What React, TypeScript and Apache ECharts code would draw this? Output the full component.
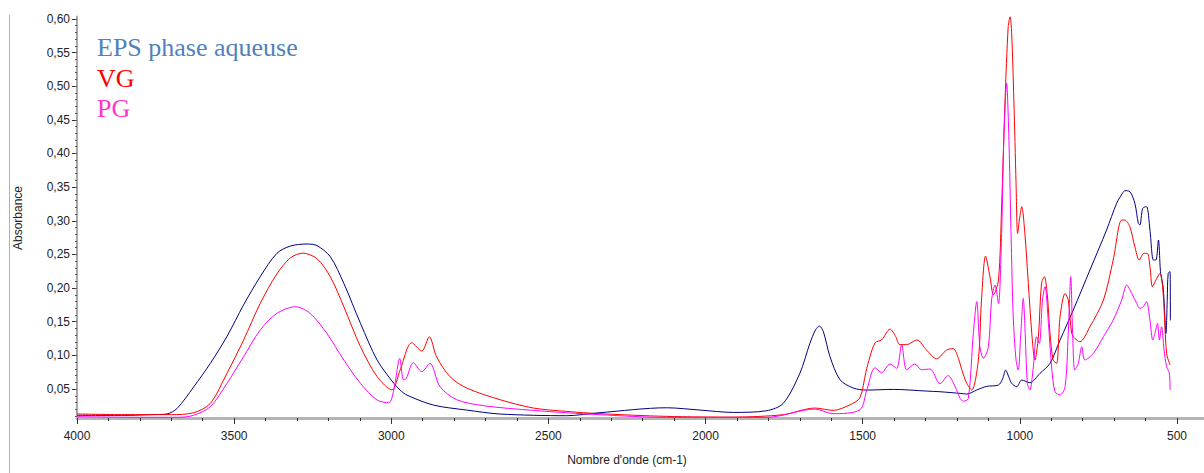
import React, { useEffect, useRef } from "react";
import * as echarts from "echarts";

// ---- Data (wavenumber cm-1, absorbance) ----
const EPS_AQUEUSE: [number, number][] = [
  [4000, 0.011], [3850, 0.011], [3760, 0.012], [3714, 0.013], [3682, 0.021],
  [3629, 0.053], [3576, 0.088], [3523, 0.128], [3470, 0.175], [3417, 0.217],
  [3364, 0.2516], [3321, 0.2625], [3268, 0.2655], [3236, 0.263], [3194, 0.2466],
  [3151, 0.207], [3098, 0.1476], [3045, 0.0931], [2992, 0.0585], [2972, 0.0485],
  [2950, 0.041], [2866, 0.0262], [2760, 0.0188], [2654, 0.0129], [2442, 0.0104],
  [2336, 0.0149], [2124, 0.0222], [2018, 0.0188], [1912, 0.0153], [1806, 0.0178],
  [1753, 0.0287], [1700, 0.0733], [1668, 0.118], [1650, 0.138], [1638, 0.1436],
  [1625, 0.135], [1604, 0.098], [1572, 0.0638], [1530, 0.0515], [1487, 0.0485],
  [1403, 0.0495], [1297, 0.047], [1254, 0.046], [1190, 0.0436], [1169, 0.0426],
  [1137, 0.0486], [1106, 0.054], [1068, 0.056], [1055, 0.065], [1045, 0.078],
  [1035, 0.068], [1026, 0.0585], [1010, 0.0535], [994, 0.0634], [968, 0.0594],
  [936, 0.0733], [904, 0.0882], [872, 0.1228], [830, 0.1674], [777, 0.2268],
  [724, 0.2863], [692, 0.3259], [672, 0.342], [666, 0.3447], [650, 0.3433],
  [634, 0.3259], [623, 0.2962], [618, 0.2937], [609, 0.3185], [597, 0.321],
  [586, 0.2863], [575, 0.2417], [567, 0.2417], [559, 0.2714], [552, 0.2219],
  [544, 0.2021], [535, 0.1327], [531, 0.182], [528, 0.2219], [522, 0.2244],
  [521, 0.152],
];

const VG: [number, number][] = [
  [4000, 0.013], [3850, 0.012], [3700, 0.012], [3629, 0.0148], [3576, 0.0286],
  [3523, 0.0733], [3470, 0.1228], [3417, 0.1773], [3364, 0.2211], [3321, 0.2449],
  [3281, 0.2519], [3236, 0.2435], [3194, 0.2169], [3151, 0.1723], [3098, 0.1129],
  [3045, 0.0684], [2998, 0.0487], [2972, 0.078], [2935, 0.1188], [2903, 0.1065],
  [2879, 0.1277], [2856, 0.098], [2813, 0.0683], [2760, 0.0515], [2654, 0.0342],
  [2548, 0.0218], [2442, 0.0168], [2336, 0.0134], [2124, 0.0094], [1912, 0.0084],
  [1753, 0.0119], [1652, 0.0218], [1594, 0.0183], [1540, 0.0267], [1509, 0.037],
  [1490, 0.075], [1477, 0.098], [1460, 0.119], [1440, 0.123], [1413, 0.139],
  [1395, 0.128], [1382, 0.116], [1360, 0.116], [1328, 0.123], [1297, 0.108],
  [1265, 0.095], [1233, 0.108], [1212, 0.11], [1195, 0.095], [1185, 0.079],
  [1169, 0.0585], [1153, 0.0486], [1132, 0.0931], [1122, 0.1822], [1109, 0.2476],
  [1095, 0.2169], [1084, 0.1897], [1068, 0.212], [1058, 0.3209], [1047, 0.4794],
  [1037, 0.5884], [1031, 0.603], [1026, 0.5785], [1019, 0.4794], [1012, 0.3556],
  [1007, 0.2813], [1000, 0.306], [994, 0.321], [984, 0.2813], [973, 0.207],
  [962, 0.1327], [952, 0.0931], [941, 0.1277], [931, 0.207], [922, 0.2169],
  [913, 0.1921], [904, 0.1327], [894, 0.0931], [883, 0.0882], [872, 0.1574],
  [856, 0.1921], [846, 0.1822], [835, 0.1327], [825, 0.1253], [809, 0.1203],
  [777, 0.1426], [734, 0.1822], [703, 0.2417], [676, 0.3011], [666, 0.3011],
  [650, 0.2912], [634, 0.2615], [620, 0.2417], [605, 0.2516], [594, 0.2516],
  [586, 0.2318], [578, 0.2021], [567, 0.212], [554, 0.2219], [544, 0.1921],
  [533, 0.103], [522, 0.0857],
];

const PG: [number, number][] = [
  [4000, 0.009], [3800, 0.008], [3680, 0.008], [3629, 0.011], [3576, 0.0237],
  [3523, 0.0584], [3470, 0.098], [3417, 0.1377], [3364, 0.1624], [3305, 0.1723],
  [3258, 0.1624], [3205, 0.1327], [3151, 0.0931], [3098, 0.0584], [3045, 0.0336],
  [3008, 0.0297], [2992, 0.0485], [2973, 0.0955], [2961, 0.0634], [2952, 0.066],
  [2930, 0.0892], [2903, 0.0758], [2877, 0.0882], [2845, 0.0535], [2792, 0.0342],
  [2707, 0.0253], [2548, 0.0183], [2336, 0.0119], [2124, 0.0079], [1806, 0.0079],
  [1652, 0.0203], [1594, 0.0134], [1509, 0.0193], [1487, 0.0485], [1461, 0.0817],
  [1440, 0.0743], [1413, 0.0872], [1392, 0.0808], [1376, 0.1159], [1360, 0.0787],
  [1334, 0.0872], [1313, 0.0787], [1286, 0.0798], [1254, 0.058], [1228, 0.07],
  [1206, 0.0535], [1190, 0.036], [1180, 0.032], [1164, 0.036], [1148, 0.1327],
  [1137, 0.18], [1127, 0.1129], [1116, 0.0956], [1100, 0.1129], [1090, 0.1822],
  [1079, 0.2045], [1068, 0.1773], [1058, 0.2813], [1051, 0.42], [1042, 0.5041],
  [1035, 0.4249], [1028, 0.2813], [1021, 0.1574], [1012, 0.0931], [1005, 0.0782],
  [997, 0.1327], [989, 0.1847], [983, 0.1327], [976, 0.0585], [968, 0.0486],
  [957, 0.0832], [947, 0.1277], [938, 0.1178], [928, 0.1822], [920, 0.2021],
  [909, 0.1475], [899, 0.0832], [888, 0.046], [872, 0.0411], [856, 0.0535],
  [846, 0.1327], [838, 0.2169], [832, 0.1327], [825, 0.0782], [814, 0.0882],
  [803, 0.1129], [793, 0.0931], [766, 0.103], [734, 0.1277], [703, 0.1525],
  [676, 0.1822], [660, 0.2045], [644, 0.1921], [628, 0.1773], [618, 0.1699],
  [607, 0.1723], [597, 0.18], [586, 0.1525], [577, 0.1228], [570, 0.1327],
  [562, 0.1475], [556, 0.1228], [549, 0.1426], [541, 0.108], [533, 0.0832],
  [524, 0.0733], [522, 0.0486],
];

const SERIES_NAMES = ["EPS phase aqueuse", "VG", "PG"];
const X_TICKS = [4000, 3500, 3000, 2500, 2000, 1500, 1000, 500];
const X_MINOR_TICKS = [4000, 3900, 3800, 3700, 3600, 3500, 3400, 3300, 3200, 3100, 3000, 2900, 2800, 2700, 2600, 2500, 2400, 2300, 2200, 2100, 2000, 1900, 1800, 1700, 1600, 1500, 1400, 1300, 1200, 1100, 1000, 900, 800, 700, 600, 500];
const Y_TICKS = [0.05, 0.1, 0.15, 0.2, 0.25, 0.3, 0.35, 0.4, 0.45, 0.5, 0.55, 0.6];
const Y_MINOR_TICKS = [0.01, 0.02, 0.03, 0.04, 0.05, 0.06, 0.07, 0.08, 0.09, 0.1, 0.11, 0.12, 0.13, 0.14, 0.15, 0.16, 0.17, 0.18, 0.19, 0.2, 0.21, 0.22, 0.23, 0.24, 0.25, 0.26, 0.27, 0.28, 0.29, 0.3, 0.31, 0.32, 0.33, 0.34, 0.35, 0.36, 0.37, 0.38, 0.39, 0.4, 0.41, 0.42, 0.43, 0.44, 0.45, 0.46, 0.47, 0.48, 0.49, 0.5, 0.51, 0.52, 0.53, 0.54, 0.55, 0.56, 0.57, 0.58, 0.59, 0.6];

const X_MIN = 414;
const X_MAX = 4000;
const Y_MIN = 0.007;
const Y_MAX = 0.6035;

const LINE_COLORS = ["#000080", "#ff0000", "#ff00ff"];
const LABEL_COLORS = ["#4f81bd", "#ff0000", "#ff33cc"];

export default function App() {
  const ref = useRef<HTMLDivElement>(null);

  useEffect(() => {
    if (!ref.current) return;
    const chart = echarts.init(ref.current, undefined, { renderer: "svg" });
    const axisFont = { fontFamily: "Liberation Sans, Arial, sans-serif", fontSize: 12, color: "#222" };

    const mkSeries = (name: string, data: [number, number][], color: string) => ({
      name,
      type: "line",
      data,
      xAxisIndex: 0,
      yAxisIndex: 0,
      showSymbol: false,
      symbol: "none",
      smooth: 0.3,
      lineStyle: { color, width: 1 },
      clip: true,
    });

    chart.setOption({
      animation: false,
      backgroundColor: "#ffffff",
      grid: { left: 77, right: 0, top: 16.5, bottom: 55 },
      xAxis: [
        {
          type: "value",
          inverse: true,
          min: X_MIN,
          max: X_MAX,
          position: "bottom",
          axisLine: { show: true, lineStyle: { color: "#b4b4b4", width: 3 } },
          axisTick: { show: true, customValues: X_TICKS, length: 6, lineStyle: { color: "#333" } },
          axisLabel: {
            show: true,
            customValues: X_TICKS,
            margin: 12,
            formatter: (v: number) => String(Math.round(v)),
            ...axisFont,
          },
          splitLine: { show: false },
        },
        {
          type: "value",
          inverse: true,
          min: X_MIN,
          max: X_MAX,
          position: "bottom",
          axisLine: { show: false },
          axisTick: { show: true, customValues: X_MINOR_TICKS, length: 3, lineStyle: { color: "#333" } },
          axisLabel: { show: false },
          splitLine: { show: false },
        },
      ],
      yAxis: [
        {
          type: "value",
          min: Y_MIN,
          max: Y_MAX,
          position: "left",
          axisLine: { show: true, lineStyle: { color: "#a8a8a8", width: 2 } },
          axisTick: { show: true, customValues: Y_TICKS, length: 5, lineStyle: { color: "#333" } },
          axisLabel: {
            show: true,
            customValues: Y_TICKS,
            margin: 7,
            formatter: (v: number) => v.toFixed(2).replace(".", ","),
            ...axisFont,
          },
          splitLine: { show: false },
        },
        {
          type: "value",
          min: Y_MIN,
          max: Y_MAX,
          position: "left",
          axisLine: { show: false },
          axisTick: { show: true, customValues: Y_MINOR_TICKS, length: 2, lineStyle: { color: "#555" } },
          axisLabel: { show: false },
          splitLine: { show: false },
        },
      ],
      series: [
        mkSeries(SERIES_NAMES[0], EPS_AQUEUSE, LINE_COLORS[0]),
        mkSeries(SERIES_NAMES[1], VG, LINE_COLORS[1]),
        mkSeries(SERIES_NAMES[2], PG, LINE_COLORS[2]),
      ],
      graphic: [
        {
          type: "line",
          shape: { x1: 9.5, y1: 15, x2: 9.5, y2: 473 },
          style: { stroke: "#b0b0b0", lineWidth: 1 },
          silent: true,
        },
        {
          type: "text",
          x: 18,
          y: 218,
          rotation: Math.PI / 2,
          style: {
            text: "Absorbance",
            font: "12px 'Liberation Sans', Arial, sans-serif",
            fill: "#222",
            align: "center",
            verticalAlign: "middle",
          },
        },
        {
          type: "text",
          x: 627,
          y: 460,
          style: {
            text: "Nombre d'onde (cm-1)",
            font: "12px 'Liberation Sans', Arial, sans-serif",
            fill: "#222",
            align: "center",
            verticalAlign: "middle",
          },
        },
        ...SERIES_NAMES.map((name, i) => ({
          type: "text",
          x: 97,
          y: 47.5 + i * 30.5,
          style: {
            text: name,
            font: "26px 'Liberation Serif', 'Times New Roman', serif",
            fill: LABEL_COLORS[i],
            align: "left",
            verticalAlign: "middle",
          },
        })),
      ],
    });

    return () => chart.dispose();
  }, []);

  return (
    <div
      ref={ref}
      style={{ position: "fixed", left: 0, top: 0, width: 1204, height: 473, background: "#fff" }}
    />
  );
}
